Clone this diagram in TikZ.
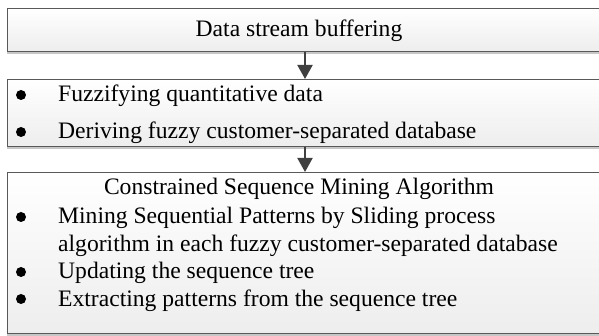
\documentclass[tikz,border=0pt]{standalone}
\usepackage{fontspec}
\setmainfont{Liberation Serif}
\usetikzlibrary{arrows.meta,positioning,shadows}

\tikzset{
  stagebox/.style={draw=black!65, line width=0.8pt, top color=white, bottom color=black!7,
    anchor=north west, minimum width=600pt, inner sep=0pt,
    drop shadow={shadow xshift=0pt, shadow yshift=-3pt, fill=black!22, opacity=1}},
  line/.style={anchor=base west, inner sep=0pt, font=\fontsize{23.6}{27}\selectfont},
  title/.style={line, anchor=base},
  dot/.style={circle, fill=black, inner sep=0pt, minimum size=10pt},
  flow/.style={-{Triangle[length=14pt,width=15pt]}, line width=2pt, draw=black!75},
}

\begin{document}
\begin{tikzpicture}[x=1pt,y=-1pt]
	\useasboundingbox (0,0) rectangle (599,336);
	% stages
	\node[stagebox, minimum height=43pt] (buffer) at (7,8) {};
	\node[stagebox, minimum height=67pt] (fuzzy) at (7,79) {};
	\node[stagebox, minimum height=161pt] (mining) at (7,172) {};
	% connectors
	\coordinate (mid) at (305,0);
	\draw[flow] (buffer.south -| mid) -- (fuzzy.north -| mid);
	\draw[flow] (fuzzy.south -| mid) -- (mining.north -| mid);
	% texts
	\node[title] (t1) at (299,37) {Data stream buffering};
	\node[line] (f1) at (58,102) {Fuzzifying quantitative data};
	\node[line] (f2) at (58,139) {Deriving fuzzy customer-separated database};
	\node[title] (t3) at (299,195) {Constrained Sequence Mining Algorithm};
	\node[line] (m1) at (58,224) {Mining Sequential Patterns by Sliding process};
	\node[line] (m2) at (58,252) {algorithm in each fuzzy customer-separated database};
	\node[line] (m3) at (58,279) {Updating the sequence tree};
	\node[line] (m4) at (58,306) {Extracting patterns from the sequence tree};
	% bullets
	\foreach \t in {f1,f2,m1,m3,m4}
		\node[dot] at ([yshift=7pt]\t.base west -| 21,0) {};
\end{tikzpicture}
\end{document}
